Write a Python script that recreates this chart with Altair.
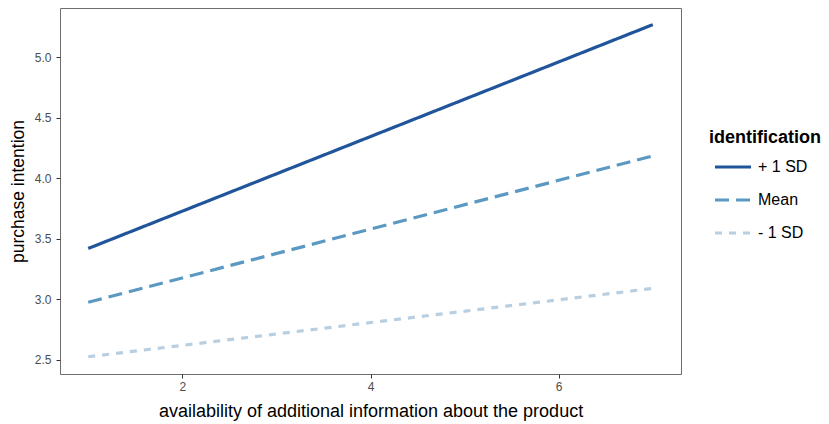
import altair as alt
import pandas as pd

groups = ["+ 1 SD", "Mean", "- 1 SD"]
x_vals = [1, 7]
plus_sd = [3.42, 5.27]
mean_vals = [2.975, 4.185]
minus_sd = [2.525, 3.09]
colors = ["#21559b", "#5b98c2", "#b8cfe2"]
dashes = [[1, 0], [14, 7], [7, 7]]

rows = []
for g, ys in zip(groups, [plus_sd, mean_vals, minus_sd]):
    for x, y in zip(x_vals, ys):
        rows.append({"x": x, "y": y, "identification": g})
df = pd.DataFrame(rows)

chart = alt.Chart(df).mark_line(strokeWidth=3.2, strokeCap="butt").encode(
    x=alt.X("x:Q", scale=alt.Scale(domain=[0.7, 7.3], nice=False, zero=False),
            axis=alt.Axis(values=[2, 4, 6], title="availability of additional information about the product",
                          grid=False, format="d")),
    y=alt.Y("y:Q", scale=alt.Scale(domain=[2.3825, 5.4075], nice=False, zero=False),
            axis=alt.Axis(values=[2.5, 3.0, 3.5, 4.0, 4.5, 5.0], format=".1f", grid=False,
                          title="purchase intention")),
    color=alt.Color("identification:N", scale=alt.Scale(domain=groups, range=colors),
                    legend=alt.Legend(orient="none", legendX=649, legendY=121,
                                      symbolType="stroke", symbolSize=1296, symbolStrokeWidth=3.2,
                                      symbolOffset=4,
                                      titleFontSize=18, titleFontWeight="bold", titleColor="black",
                                      labelFontSize=16, labelColor="black", rowPadding=5,
                                      titlePadding=0, labelOffset=5)),
    strokeDash=alt.StrokeDash("identification:N", scale=alt.Scale(domain=groups, range=dashes)),
).properties(
    width=621, height=366,
    autosize=alt.AutoSizeParams(type="none"),
    padding={"left": 52, "top": 0, "right": 140, "bottom": 48},
).configure(
    font="Liberation Sans",
).configure_view(
    stroke="#6e6e6e", strokeWidth=1,
).configure_axis(
    labelFontSize=12, labelColor="#4d4d4d", titleColor="black",
    titleFontWeight="normal", tickColor="#333333", tickSize=4, domain=False,
).configure_axisX(titlePadding=10, labelPadding=3, titleFontSize=18
).configure_axisY(titlePadding=7, labelPadding=5, titleFontSize=17.5)

chart.save("out.html", embed_options={"renderer": "svg", "actions": False})
